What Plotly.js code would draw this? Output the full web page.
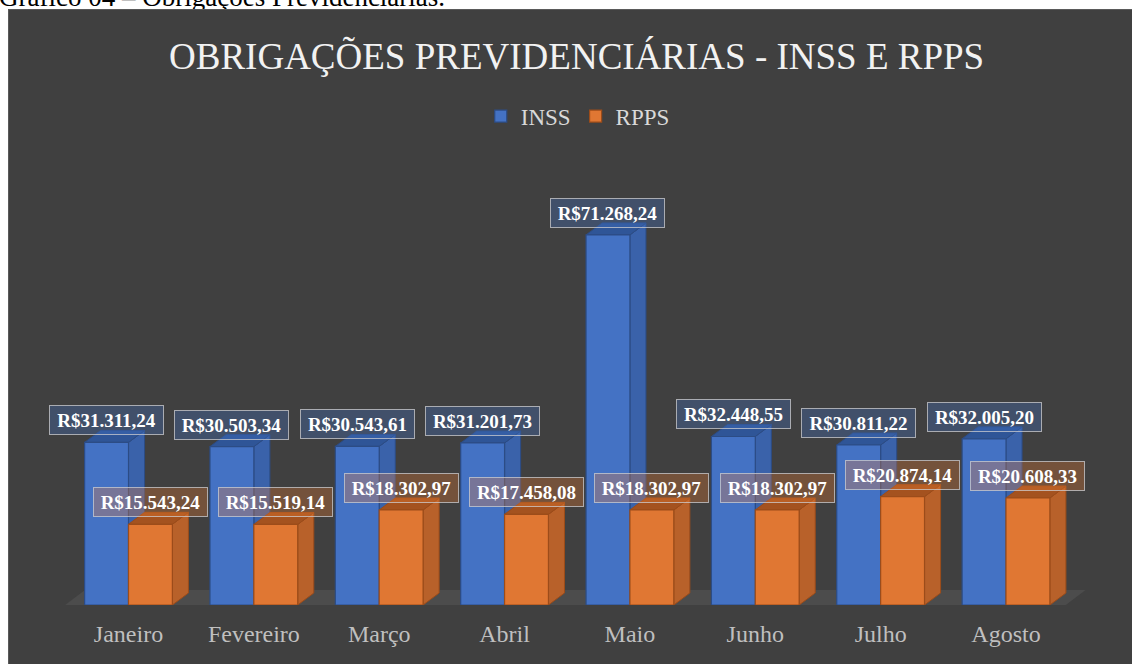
<!DOCTYPE html>
<html>
<head>
<meta charset="utf-8">
<script src="https://cdn.plot.ly/plotly-3.0.1.min.js"></script>
<style>
  html, body { margin: 0; padding: 0; background: #ffffff; width: 1132px; height: 664px; overflow: hidden; position: relative; }
  #caption { position: absolute; left: -1px; top: -16px; font-family: "Liberation Serif", "Times New Roman", serif; font-size: 27px; line-height: 27px; color: #000; white-space: nowrap; }
  #chart { position: absolute; left: 8px; top: 9px; width: 1124px; height: 655px; box-sizing: border-box; border-top: 1px solid #5a5a5a; border-left: 1px solid #5a5a5a; }
</style>
</head>
<body>
<div id="caption">Gráfico 04 – Obrigações Previdenciárias.</div>
<div id="chart"></div>
<script>
// ---- data ----
const months = ['Janeiro', 'Fevereiro', 'Março', 'Abril', 'Maio', 'Junho', 'Julho', 'Agosto'];
const inss = [31311.24, 30503.34, 30543.61, 31201.73, 71268.24, 32448.55, 30811.22, 32005.20];
const rpps = [15543.24, 15519.14, 18302.97, 17458.08, 18302.97, 18302.97, 20874.14, 20608.33];
const seriesNames = ['INSS', 'RPPS'];
const chartTitle = 'OBRIGAÇÕES PREVIDENCIÁRIAS - INSS E RPPS';

// ---- style ----
const FONT = '"Liberation Serif", "Times New Roman", serif';
const BG = '#404040';
const colors = {
  INSS: { front: '#4472c4', side: '#3a62aa', top: '#2f5597', line: '#2c4c85', label: 'rgba(68,114,196,0.32)' },
  RPPS: { front: '#e07733', side: '#b8612a', top: '#a4521f', line: '#9c4c1a', label: 'rgba(237,125,49,0.30)' }
};
const barW = 0.35;
const depthX = 0.128;   // depth offset (x units)
const depthY = 2300;    // depth offset (y units)

function brl(v) {
  const parts = v.toFixed(2).split('.');
  return 'R$' + parts[0].replace(/\B(?=(\d{3})+(?!\d))/g, '.') + ',' + parts[1];
}

const idx = months.map((_, i) => i);
const xPos = { INSS: idx.map(i => i - barW / 2), RPPS: idx.map(i => i + barW / 2) };
const vals = { INSS: inss, RPPS: rpps };

const traces = seriesNames.map(s => ({
  type: 'bar',
  name: s,
  x: xPos[s],
  y: vals[s],
  width: barW,
  marker: { color: colors[s].front, line: { color: colors[s].line, width: 1.2 } },
  hoverinfo: 'skip'
}));

// floor + 3D side/top faces from data
const shapes = [];
const floorL = -0.522, floorR = idx[idx.length - 1] + 0.46;
shapes.push({
  type: 'path', xref: 'x', yref: 'y', layer: 'below',
  path: `M ${floorL},-300 L ${floorR},-300 L ${floorR + 0.175},2900 L ${floorL + 0.175},2900 Z`,
  fillcolor: '#4c4c4c', line: { width: 0 }
});
idx.forEach(i => {
  seriesNames.forEach(s => {
    const xc = xPos[s][i], v = vals[s][i];
    const xl = xc - barW / 2, xr = xc + barW / 2;
    shapes.push({
      type: 'path', xref: 'x', yref: 'y', layer: 'below',
      path: `M ${xr},0 L ${xr + depthX},${depthY} L ${xr + depthX},${v + depthY} L ${xr},${v} Z`,
      fillcolor: colors[s].side, line: { color: colors[s].line, width: 1 }
    });
    shapes.push({
      type: 'path', xref: 'x', yref: 'y', layer: 'below',
      path: `M ${xl},${v} L ${xl + depthX},${v + depthY} L ${xr + depthX},${v + depthY} L ${xr},${v} Z`,
      fillcolor: colors[s].top, line: { color: colors[s].line, width: 1 }
    });
  });
});

const annotations = [];
seriesNames.forEach(s => {
  idx.forEach(i => {
    annotations.push({
      x: xPos[s][i], y: vals[s][i], xref: 'x', yref: 'y',
      text: '<b>' + brl(vals[s][i]) + '</b>',
      showarrow: false, xanchor: 'center', yanchor: 'bottom', yshift: 7,
      font: { family: FONT, size: 19, color: '#ffffff' },
      bgcolor: colors[s].label, bordercolor: 'rgba(205,205,210,0.75)', borderwidth: 1,
      borderpad: 2, width: 109, height: 24
    });
  });
});

const layout = {
  width: 1124, height: 655,
  paper_bgcolor: BG, plot_bgcolor: 'rgba(0,0,0,0)',
  margin: { l: 32, r: 40, t: 127, b: 60 },
  barmode: 'overlay',
  title: {
    text: chartTitle, x: 0.505, xanchor: 'center', y: 0.93, yanchor: 'middle', yref: 'container',
    font: { family: FONT, size: 37, color: '#f2f2f2' }
  },
  showlegend: true,
  legend: {
    orientation: 'h', xref: 'container', yref: 'container', x: 0.506, xanchor: 'center', y: 0.838, yanchor: 'middle',
    font: { family: FONT, size: 23, color: '#d9d9d9' }, bgcolor: 'rgba(0,0,0,0)', itemwidth: 30, traceorder: 'normal'
  },
  xaxis: {
    range: [-0.698, 7.694], tickmode: 'array', tickvals: idx, ticktext: months,
    showgrid: false, zeroline: false, showline: false, ticks: '',
    tickfont: { family: FONT, size: 24, color: '#bfbfbf' }, fixedrange: true, ticklabelstandoff: 12
  },
  yaxis: { range: [0, 90000], visible: false, fixedrange: true },
  shapes: shapes,
  annotations: annotations
};

Plotly.newPlot('chart', traces, layout, { displayModeBar: false, staticPlot: true });
</script>
</body>
</html>
